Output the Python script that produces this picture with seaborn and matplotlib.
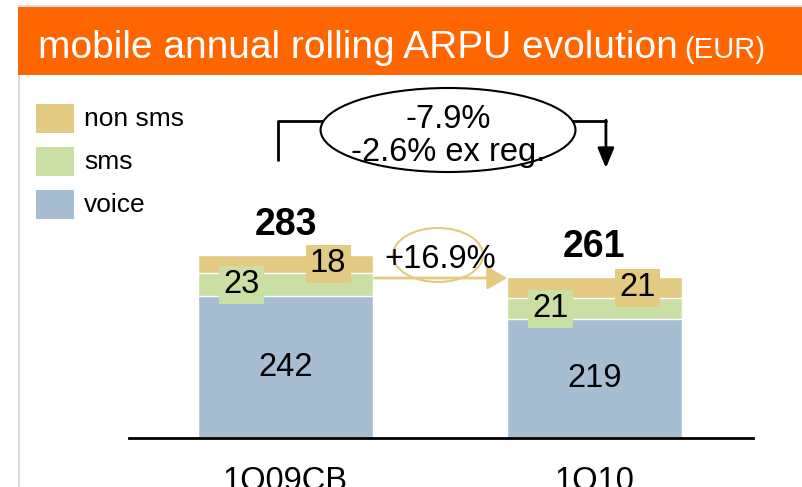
import matplotlib
matplotlib.use("Agg")
import matplotlib.pyplot as plt
from matplotlib.patches import Rectangle, Ellipse, FancyArrowPatch
import seaborn as sns
import pandas as pd

# ---- data ----
quarters = ["1Q09CB", "1Q10"]
voice = [242, 219]
sms = [23, 21]
non_sms = [18, 21]
totals = [283, 261]
legend_labels = ["non sms", "sms", "voice"]
change_total = ["-7.9%", "-2.6% ex reg."]
change_nonsms = "+16.9%"
title_main = "mobile annual rolling ARPU evolution"
title_unit = "(EUR)"

C_TAN = "#E3CA83"
C_GREEN = "#C9DFA3"
C_BLUE = "#A7BDD2"
C_ORANGE = "#FF6600"

sns.set_theme(style="white")
plt.rcParams["font.family"] = ["Liberation Sans", "DejaVu Sans"]
plt.rcParams["text.color"] = "black"
plt.rcParams["xtick.color"] = "black"

W, H = 802, 487
fig = plt.figure(figsize=(W / 100, H / 100), dpi=100)


def fx(x):
    return x / W


def fy(y):
    return 1 - y / H


# frame / header
fig.add_artist(Rectangle((fx(18), fy(487)), fx(2), 1 - fy(487) - (1 - fy(74)),
                         transform=fig.transFigure, color="#DDDDDD", lw=0))
fig.add_artist(Rectangle((fx(18), fy(7)), 1, 2 / H,
                         transform=fig.transFigure, color="#DDDDDD", lw=0))
fig.add_artist(Rectangle((fx(18), fy(75)), 1, 68 / H,
                         transform=fig.transFigure, color=C_ORANGE, lw=0))
t_main = fig.text(fx(38), fy(58), title_main, color="white", fontsize=28,
                  va="baseline", ha="left")
fig.canvas.draw()
bb = t_main.get_window_extent()
fig.text((bb.x1 + 7) / W, fy(58), title_unit, color="white", fontsize=21,
         va="baseline", ha="left")

# legend
for i, (lab, col) in enumerate(zip(legend_labels, [C_TAN, C_GREEN, C_BLUE])):
    y0 = 104 + i * 43
    fig.add_artist(Rectangle((fx(36), fy(y0 + 29)), fx(38), 29 / H,
                             transform=fig.transFigure, color=col, lw=0))
    fig.text(fx(84), fy(y0 + 15), lab, fontsize=19, va="center", ha="left",
             color="black")

# axes
ax = fig.add_axes([fx(129), fy(438), fx(753) - fx(129), fy(80) - fy(438)])
df = pd.DataFrame({
    "quarter": quarters,
    "voice": voice,
    "voice_sms": [v + s for v, s in zip(voice, sms)],
    "total": [v + s + n for v, s, n in zip(voice, sms, non_sms)],
})
BW = 0.566
sns.barplot(data=df, x="quarter", y="total", color=C_TAN, width=BW,
            saturation=1, ax=ax)
sns.barplot(data=df, x="quarter", y="voice_sms", color=C_GREEN, width=BW,
            saturation=1, ax=ax)
sns.barplot(data=df, x="quarter", y="voice", color=C_BLUE, width=BW,
            saturation=1, ax=ax)
ax.set_xlim(-0.5065, 1.513)
ax.set_ylim(100, 458)
ax.set_xlabel("")
ax.set_ylabel("")
ax.set_yticks([])
for s in ["left", "right", "top"]:
    ax.spines[s].set_visible(False)
ax.spines["bottom"].set_color("black")
ax.spines["bottom"].set_linewidth(2)
ax.tick_params(axis="x", length=0, pad=20, labelsize=23.5)
ax.patch.set_alpha(0)

FS = 23.5
BOXW, BOXH = 0.1456, 38
# value labels
for i in range(len(quarters)):
    v, s, n, t = voice[i], sms[i], non_sms[i], totals[i]
    ax.text(i, (100 + v) / 2, str(v), ha="center", va="center", fontsize=FS)
    xs, ys = i - 0.142, v + s / 2
    ax.add_patch(Rectangle((xs - BOXW / 2, ys - BOXH / 2), BOXW, BOXH,
                           color=C_GREEN, lw=0, zorder=3))
    ax.text(xs, ys, str(s), ha="center", va="center", fontsize=FS, zorder=4)
    xn, yn = i + 0.138, v + s + n / 2
    ax.add_patch(Rectangle((xn - BOXW / 2, yn - BOXH / 2), BOXW, BOXH,
                           color=C_TAN, lw=0, zorder=3, clip_on=False))
    ax.text(xn, yn, str(n), ha="center", va="center", fontsize=FS, zorder=4)
    ax.text(i, t + 30, str(t), ha="center", va="center", fontsize=27,
            fontweight="bold")

# +16.9% arrow
ax.add_patch(FancyArrowPatch((BW / 2 + 0.005, 260), (1 - BW / 2, 260),
                             arrowstyle="-|>,head_length=12,head_width=7",
                             color=C_TAN, lw=2, mutation_scale=1,
                             shrinkA=0, shrinkB=0, clip_on=False))
ax.add_patch(Ellipse((0.4935, 283), 0.291, 54, fill=False, ec=C_TAN, lw=1.5,
                     clip_on=False))
ax.text(0.5, 279, change_nonsms, ha="center", va="center", fontsize=FS)

# top bracket
ax.plot([-0.0243, -0.0243, 0.13], [377, 417, 417], color="black", lw=2,
        clip_on=False, solid_capstyle="butt")
ax.plot([0.92, 1.037], [417, 417], color="black", lw=2, clip_on=False)
ax.add_patch(FancyArrowPatch((1.037, 417.8), (1.037, 370),
                             arrowstyle="-|>,head_length=12,head_width=5",
                             color="black", lw=2, mutation_scale=1,
                             shrinkA=0, shrinkB=0, clip_on=False))
ax.add_patch(Ellipse((0.526, 408), 0.825, 84, fill=True, fc="white",
                     ec="black", lw=1.5, clip_on=False, zorder=5))
ax.text(0.526, 419, change_total[0], ha="center", va="center", fontsize=FS,
        zorder=6)
ax.text(0.526, 386, change_total[1], ha="center", va="center", fontsize=FS,
        zorder=6)

fig.savefig("out.png", dpi=100)
